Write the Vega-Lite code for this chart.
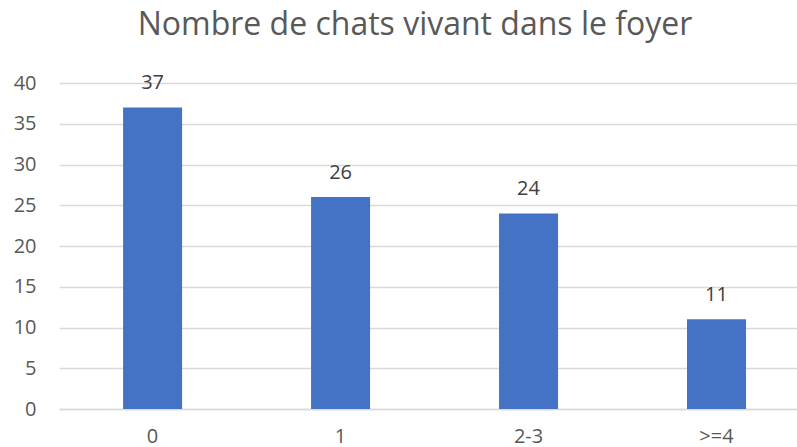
{
  "$schema": "https://vega.github.io/schema/vega-lite/v6.json",
  "autosize": "none",
  "width": 738,
  "height": 326,
  "padding": {"left": 59, "top": 83, "right": 0, "bottom": 38},
  "background": "white",
  "title": {
    "text": "Nombre de chats vivant dans le foyer",
    "font": "Open Sans",
    "fontSize": 32,
    "fontWeight": "normal",
    "color": "#595959",
    "anchor": "middle",
    "baseline": "alphabetic",
    "offset": 6,
    "dx": -13
  },
  "data": {
    "values": [
      {"cat": "0", "n": 37},
      {"cat": "1", "n": 26},
      {"cat": "2-3", "n": 24},
      {"cat": ">=4", "n": 11}
    ]
  },
  "config": {
    "view": {"stroke": null},
    "font": "Open Sans"
  },
  "encoding": {
    "x": {
      "field": "cat",
      "type": "nominal",
      "sort": null,
      "title": null,
      "scale": {"paddingInner": 0.686, "paddingOuter": 0.306, "align": 0.557},
      "axis": {
        "labelAngle": 0,
        "ticks": false,
        "domainColor": "#D9D9D9",
        "domainWidth": 1.5,
        "labelFont": "Open Sans",
        "labelFontSize": 20,
        "labelColor": "#595959",
        "labelBaseline": "alphabetic",
        "labelPadding": 33,
        "grid": false
      }
    },
    "y": {
      "field": "n",
      "type": "quantitative",
      "title": null,
      "scale": {"domain": [0, 40], "nice": false},
      "axis": {
        "values": [0, 5, 10, 15, 20, 25, 30, 35, 40],
        "ticks": false,
        "domain": false,
        "gridColor": "#D9D9D9",
        "gridWidth": 1.5,
        "labelFont": "Open Sans",
        "labelFontSize": 20,
        "labelColor": "#595959",
        "labelPadding": 23
      }
    }
  },
  "layer": [
    {"mark": {"type": "bar", "color": "#4472C4"}},
    {
      "mark": {
        "type": "text",
        "baseline": "alphabetic",
        "dy": -18,
        "font": "Open Sans",
        "fontSize": 20,
        "color": "#404040"
      },
      "encoding": {"text": {"field": "n", "type": "quantitative"}}
    }
  ]
}
